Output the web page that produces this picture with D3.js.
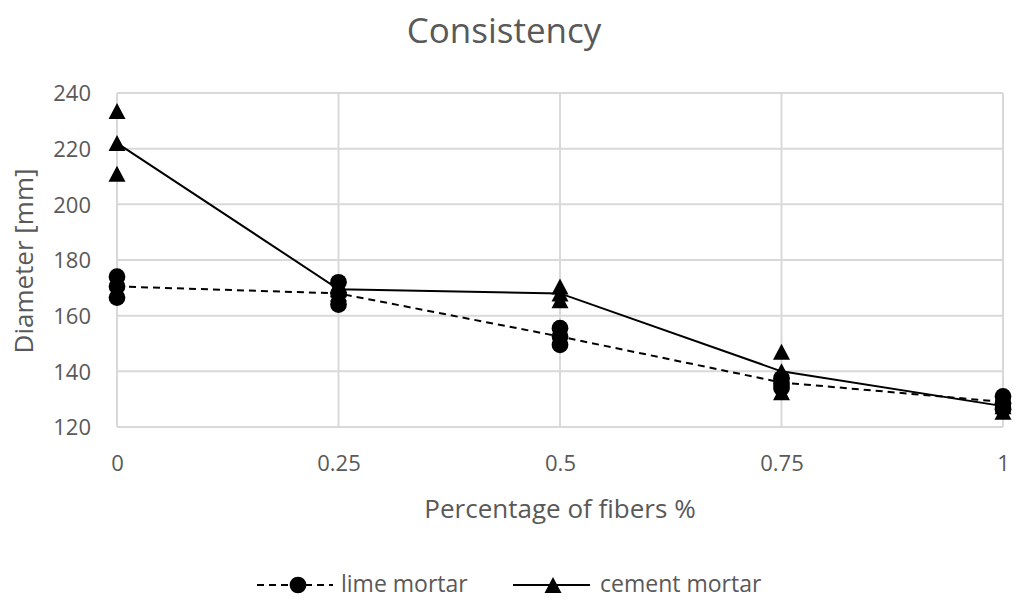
<!DOCTYPE html>
<html><head><meta charset="utf-8">
<script src="https://cdn.jsdelivr.net/npm/d3@7"></script>
<style>body{margin:0;background:#fff}</style>
</head><body>
<script>
const fibers = [0, 0.25, 0.5, 0.75, 1];
const xTicks = [0, 0.25, 0.5, 0.75, 1];
const yTicks = [120, 140, 160, 180, 200, 220, 240];
const limeMean = [170.5, 168, 152.5, 136, 129];
const cementMean = [222, 169.5, 168, 140, 127.5];
const limeSamples = [[174, 170.5, 166.5], [172, 168, 164], [155.5, 152.5, 149.5], [137.5, 135.5, 134], [131, 128.5, 126.5]];
const cementSamples = [[233.5, 222, 211], [171, 169.5, 168], [170.5, 168, 165.5], [147, 140, 132.5], [129, 127.5, 125.5]];

const W = 1024, H = 606;
const m = {l: 117, r: 1003, t: 93, b: 427};
const svg = d3.select("body").append("svg").attr("width", W).attr("height", H);
const x = d3.scaleLinear().domain([0, 1]).range([m.l, m.r]);
const y = d3.scaleLinear().domain([120, 240]).range([m.b, m.t]);
const font = "'Open Sans', 'Liberation Sans', sans-serif";
const txt = "#595959";

// grid
svg.append("g").selectAll("line").data(yTicks).join("line")
  .attr("x1", m.l).attr("x2", m.r).attr("y1", d => y(d)).attr("y2", d => y(d))
  .attr("stroke", "#d9d9d9").attr("stroke-width", 2);
svg.append("g").selectAll("line").data(xTicks).join("line")
  .attr("x1", d => x(d)).attr("x2", d => x(d)).attr("y1", m.t).attr("y2", m.b)
  .attr("stroke", "#d9d9d9").attr("stroke-width", 2);

// axes labels
const yAxis = d3.axisLeft(y).tickValues(yTicks).tickSize(0).tickPadding(26);
const gy = svg.append("g").attr("transform", `translate(${m.l},0)`).call(yAxis);
gy.select(".domain").remove();
gy.selectAll("text").attr("font-family", font).attr("font-size", 22).attr("fill", txt).attr("dy", "0.36em");
const xAxis = d3.axisBottom(x).tickValues(xTicks).tickSize(0).tickFormat(d3.format(""));
const gx = svg.append("g").attr("transform", `translate(0,${m.b})`).call(xAxis);
gx.select(".domain").remove();
gx.selectAll("text").attr("font-family", font).attr("font-size", 22).attr("fill", txt).attr("dy", null).attr("y", 44);

// titles
svg.append("text").attr("x", 504).attr("y", 43).attr("text-anchor", "middle")
  .attr("font-family", font).attr("font-size", 35).attr("fill", txt).text("Consistency");
svg.append("text").attr("x", 560).attr("y", 518).attr("text-anchor", "middle")
  .attr("font-family", font).attr("font-size", 26).attr("fill", txt).text("Percentage of fibers %");
svg.append("text").attr("transform", "translate(33,261) rotate(-90)").attr("text-anchor", "middle")
  .attr("font-family", font).attr("font-size", 26).attr("fill", txt).text("Diameter [mm]");

const line = d3.line().x((d, i) => x(fibers[i])).y(d => y(d));
svg.append("path").datum(limeMean).attr("d", line).attr("fill", "none")
  .attr("stroke", "#000").attr("stroke-width", 2).attr("stroke-dasharray", "7,5");
svg.append("path").datum(cementMean).attr("d", line).attr("fill", "none")
  .attr("stroke", "#000").attr("stroke-width", 2);

const circ = d3.symbol().type(d3.symbolCircle).size(220);
const triType = {draw(ctx, size) { const w = 8.5, h = 8; ctx.moveTo(0, -h); ctx.lineTo(w, h); ctx.lineTo(-w, h); ctx.closePath(); }};
const tri = d3.symbol().type(triType).size(1);

const limePts = limeSamples.flatMap((arr, i) => arr.map(v => [fibers[i], v]));
const cemPts = cementSamples.flatMap((arr, i) => arr.map(v => [fibers[i], v]));
svg.append("g").selectAll("path").data(limePts).join("path")
  .attr("d", circ).attr("transform", d => `translate(${x(d[0])},${y(d[1])})`).attr("fill", "#000");
svg.append("g").selectAll("path").data(cemPts).join("path")
  .attr("d", tri).attr("transform", d => `translate(${x(d[0])},${y(d[1])})`).attr("fill", "#000");

// legend
const lg = svg.append("g");
const ly = 585;
lg.append("line").attr("x1", 257).attr("x2", 333).attr("y1", ly).attr("y2", ly)
  .attr("stroke", "#000").attr("stroke-width", 2).attr("stroke-dasharray", "7,5");
lg.append("path").attr("d", circ).attr("transform", `translate(298,${ly})`).attr("fill", "#000");
lg.append("text").attr("x", 341).attr("y", 592).attr("font-family", font).attr("font-size", 23)
  .attr("fill", txt).text("lime mortar");
lg.append("line").attr("x1", 513).attr("x2", 590).attr("y1", ly).attr("y2", ly)
  .attr("stroke", "#000").attr("stroke-width", 2);
lg.append("path").attr("d", tri).attr("transform", `translate(553,${ly})`).attr("fill", "#000");
lg.append("text").attr("x", 600).attr("y", 592).attr("font-family", font).attr("font-size", 23)
  .attr("fill", txt).text("cement mortar");
</script>
</body></html>
